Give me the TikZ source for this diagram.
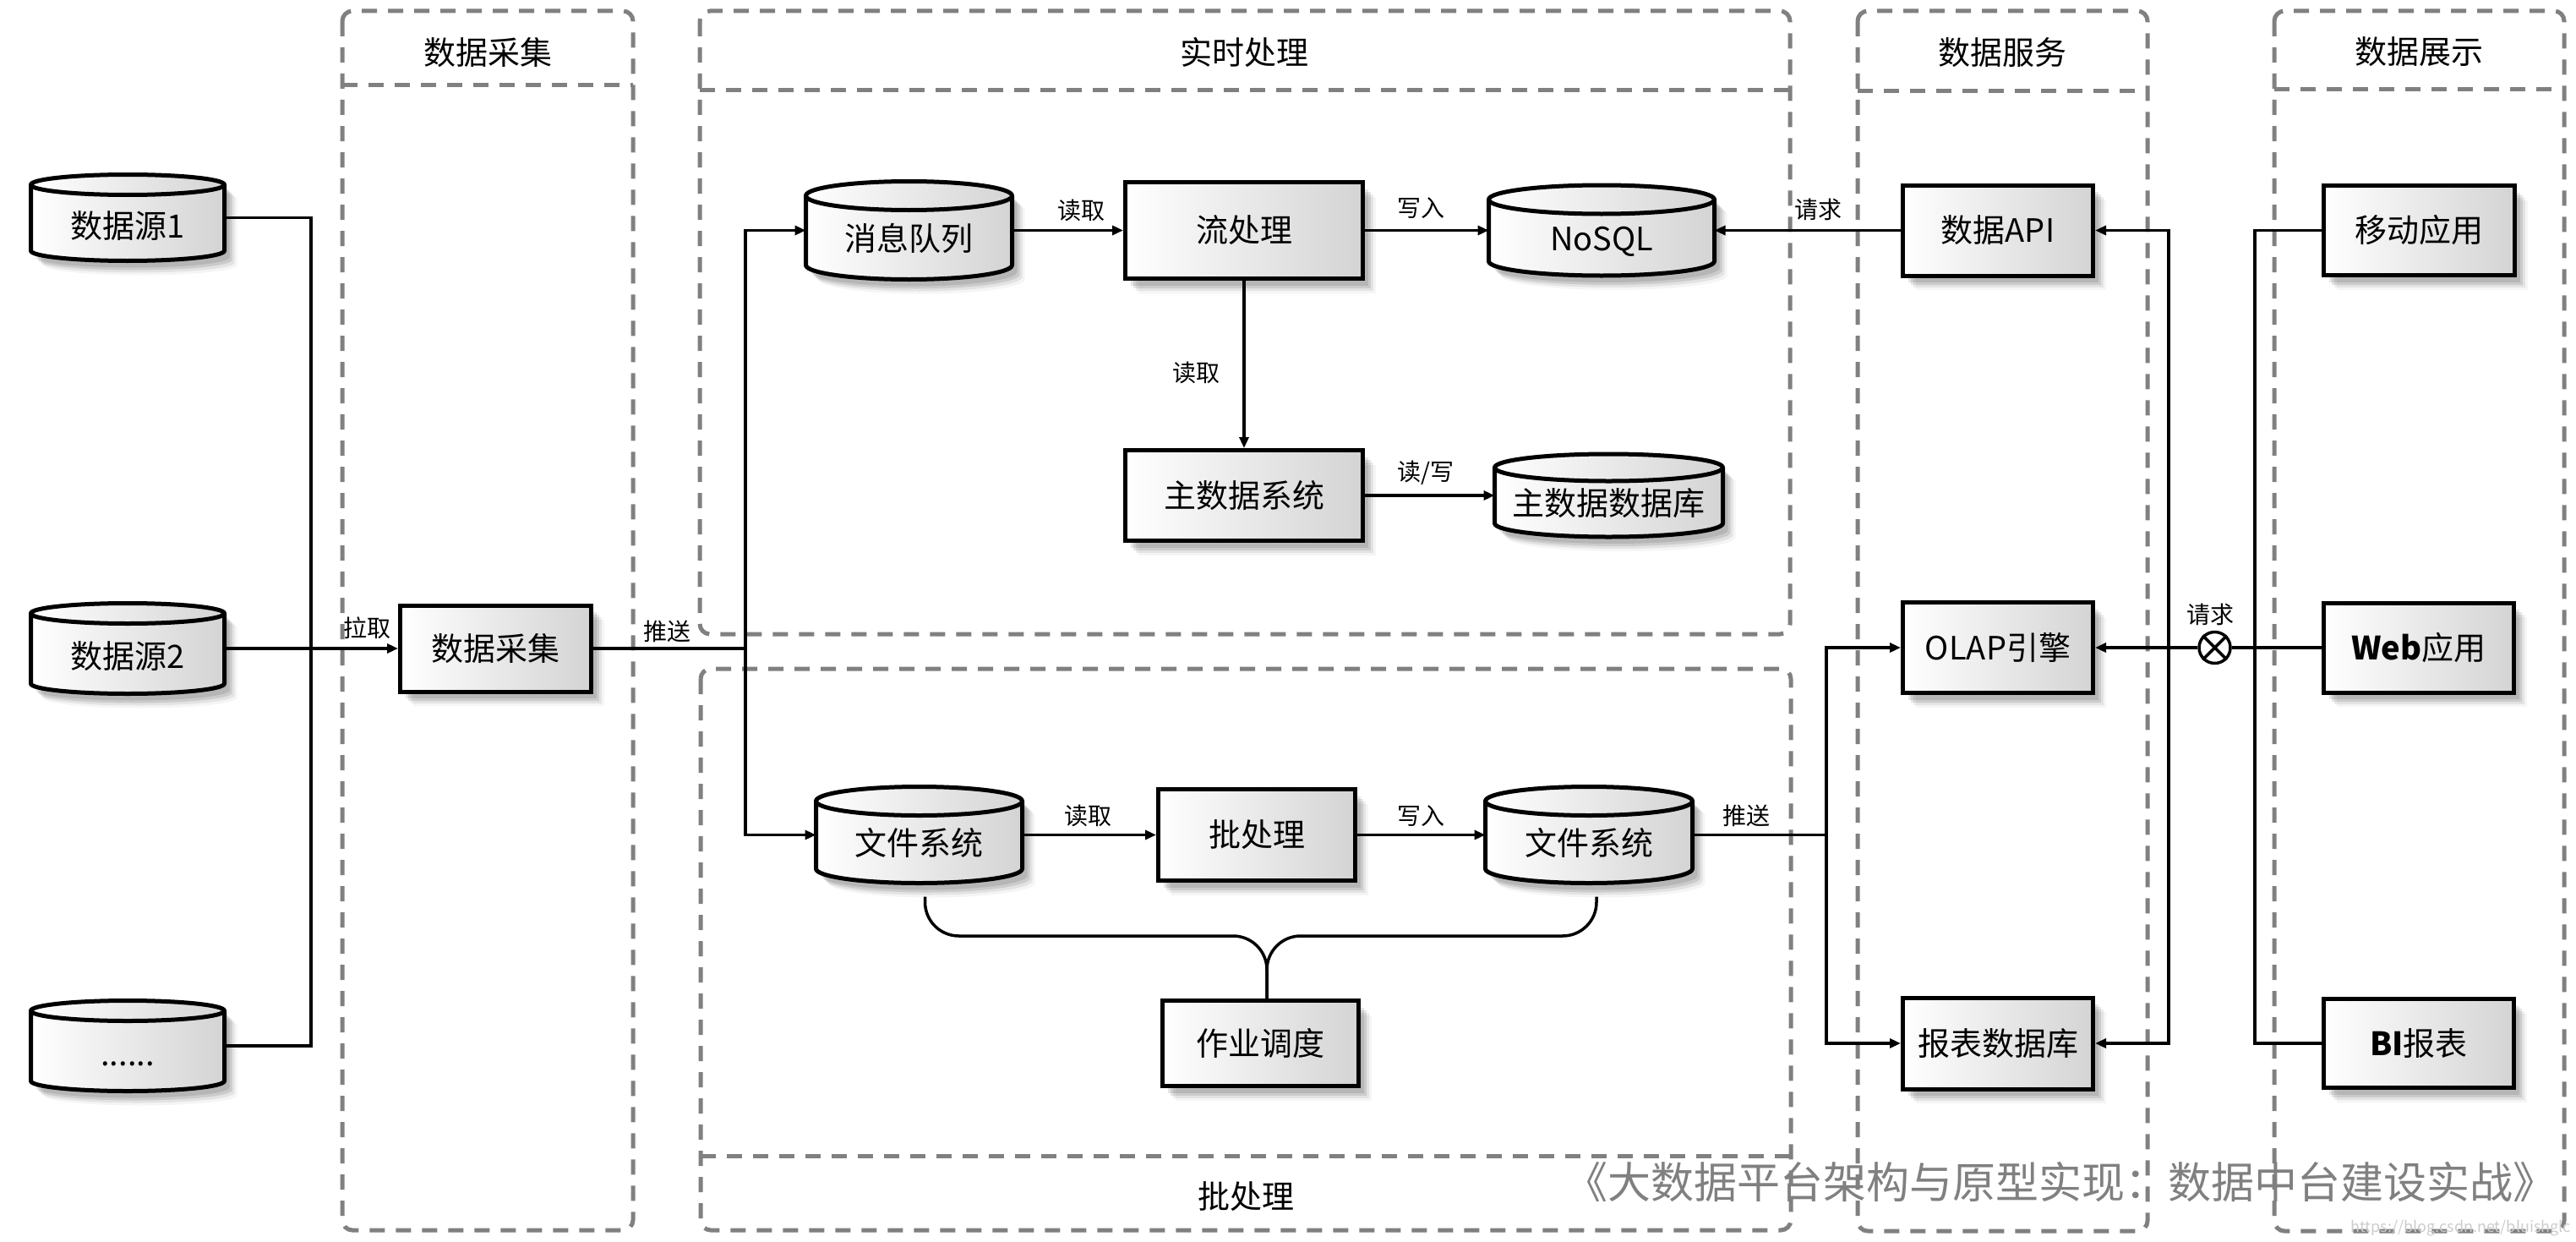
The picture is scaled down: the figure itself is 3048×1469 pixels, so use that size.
\documentclass[tikz,border=0pt]{standalone}
\usepackage{fontspec}
\setmainfont{Noto Sans CJK SC}
\usetikzlibrary{arrows.meta,shadows,calc}
\pgfdeclarelayer{frames}
\pgfdeclarelayer{shapes}
\pgfsetlayers{frames,shapes,main}

\tikzset{
  frame/.style={draw=black!50, line width=5pt, dash pattern=on 18pt off 13pt, rounded corners=12pt},
  sepline/.style={draw=black!50, line width=5pt, dash pattern=on 18pt off 13pt},
  hdr/.style={font=\fontsize{38pt}{44pt}\selectfont, inner sep=0pt},
  shd/.style={
    drop shadow={shadow xshift=15pt,shadow yshift=-17pt,fill=black,opacity=.04},
    drop shadow={shadow xshift=12pt,shadow yshift=-14pt,fill=black,opacity=.07},
    drop shadow={shadow xshift=9pt,shadow yshift=-11pt,fill=black,opacity=.10},
    drop shadow={shadow xshift=6pt,shadow yshift=-8pt,fill=black,opacity=.10}},
  box/.style={draw, line width=5pt, left color=white, right color=black!17, inner sep=0pt,
    font=\fontsize{38pt}{44pt}\selectfont, shd},
  cylnode/.style={inner sep=0pt, outer sep=0pt, font=\fontsize{38pt}{44pt}\selectfont,
    text height=50pt, text depth=3pt},
  conn/.style={line width=3.5pt},
  arr/.style={conn, -{Triangle[length=13pt,width=11pt]}},
  lbl/.style={font=\fontsize{28pt}{32pt}\selectfont, inner sep=0pt},
}

% cylinder outline drawn behind its node text
\newcommand\cyl[2]{%
  \begin{pgfonlayer}{shapes}
    \foreach \sdx/\sdy/\sop in {15pt/-17pt/.04, 12pt/-14pt/.07, 9pt/-11pt/.10, 6pt/-8pt/.10}{%
      \fill[black, opacity=\sop] let \p1=(#1.north west), \p2=(#1.south east), \n1={(\x2-\x1)/2} in
        (\x1+\sdx,\y1-#2+\sdy) -- (\x1+\sdx,\y2+#2+\sdy)
        arc[start angle=180,end angle=360,x radius=\n1,y radius=#2]
        -- (\x2+\sdx,\y1-#2+\sdy)
        arc[start angle=0,end angle=180,x radius=\n1,y radius=#2] -- cycle;
    }
    \path[left color=white, right color=black!17] let \p1=(#1.north west), \p2=(#1.south east), \n1={(\x2-\x1)/2} in
      (\x1,\y1-#2) -- (\x1,\y2+#2)
      arc[start angle=180,end angle=360,x radius=\n1,y radius=#2]
      -- (\x2,\y1-#2)
      arc[start angle=0,end angle=180,x radius=\n1,y radius=#2] -- cycle;
    \draw[line width=5pt, line join=round] let \p1=(#1.north west), \p2=(#1.south east), \n1={(\x2-\x1)/2} in
      (\x1,\y1-#2) -- (\x1,\y2+#2)
      arc[start angle=180,end angle=360,x radius=\n1,y radius=#2]
      -- (\x2,\y1-#2)
      arc[start angle=0,end angle=180,x radius=\n1,y radius=#2] -- cycle
      (\x1,\y1-#2) arc[start angle=180,end angle=360,x radius=\n1,y radius=#2];
  \end{pgfonlayer}}

\begin{document}
\begin{tikzpicture}[x=1pt,y=-1pt]
\useasboundingbox (0,0) rectangle (3048,1469);

\begin{pgfonlayer}{frames}
  \fill[white] (0,0) rectangle (3048,1469);
  \draw[frame] (405,13) rectangle (749,1455);
  \draw[sepline] (405,101) -- (749,101);
  \draw[frame] (828,13) rectangle (2118,750);
  \draw[sepline] (828,107) -- (2118,107);
  \draw[frame] (829,791) rectangle (2119,1455);
  \draw[sepline] (829,1367) -- (2119,1367);
  \draw[frame] (2198,13) rectangle (2541,1456);
  \draw[sepline] (2198,108) -- (2541,108);
  \draw[frame] (2691,13) rectangle (3034,1456);
  \draw[sepline] (2691,106) -- (3034,106);
\end{pgfonlayer}

% headers
\node[hdr] (h1) at (577,62) {数据采集};
\node[hdr] (h2) at (1472,62) {实时处理};
\node[hdr] (h3) at (2369,62) {数据服务};
\node[hdr] (h4) at (2862,61) {数据展示};
\node[hdr] (h5) at (1474,1415) {批处理};

% cylinders
\node[cylnode, minimum width=229pt, minimum height=102pt] (ds1) at (151,257.5) {数据源1};
\node[cylnode, minimum width=229pt, minimum height=107pt] (ds2) at (151,767) {数据源2};
\node[cylnode, minimum width=229pt, minimum height=107pt] (dsn) at (151,1237) {......};
\node[cylnode, minimum width=244pt, minimum height=116pt] (mq) at (1075.5,272.5) {消息队列};
\node[cylnode, minimum width=267pt, minimum height=107pt] (nosql) at (1895,272.5) {NoSQL};
\node[cylnode, minimum width=270pt, minimum height=98pt] (mdb) at (1903.5,586) {主数据数据库};
\node[cylnode, minimum width=244pt, minimum height=114pt] (fs1) at (1087.5,987.5) {文件系统};
\node[cylnode, minimum width=245pt, minimum height=114pt] (fs2) at (1880,987.5) {文件系统};
\cyl{ds1}{12pt}
\cyl{ds2}{12pt}
\cyl{dsn}{12pt}
\cyl{mq}{17pt}
\cyl{nosql}{17pt}
\cyl{mdb}{16pt}
\cyl{fs1}{17pt}
\cyl{fs2}{17pt}

% boxes
\node[box, minimum width=226pt, minimum height=102pt] (collect) at (586.5,767) {数据采集};
\node[box, minimum width=281pt, minimum height=114pt] (stream) at (1472,272.5) {流处理};
\node[box, minimum width=281pt, minimum height=107pt] (master) at (1472,586) {主数据系统};
\node[box, minimum width=233pt, minimum height=108pt] (batch) at (1487,987.5) {批处理};
\node[box, minimum width=232pt, minimum height=101pt] (sched) at (1491.5,1234) {作业调度};
\node[box, minimum width=225pt, minimum height=107pt] (api) at (2364,272.5) {数据API};
\node[box, minimum width=225pt, minimum height=107pt] (olap) at (2364,766) {OLAP引擎};
\node[box, minimum width=225pt, minimum height=108pt] (report) at (2364,1234) {报表数据库};
\node[box, minimum width=226pt, minimum height=106pt] (mobile) at (2862.5,272.5) {移动应用};
\node[box, minimum width=225pt, minimum height=106pt] (web) at (2862,766) {\textbf{Web}应用};
\node[box, minimum width=225pt, minimum height=105pt] (bi) at (2862,1234) {\textbf{BI}报表};

% junctions
\coordinate (b1) at (368,767);
\coordinate (b2) at (882,767);
\coordinate (b3) at (2161,987.5);
\coordinate (xl) at (2566,766);
\coordinate (xr) at (2668,766);
\coordinate (bm) at (1499,1107);

% sources -> collection
\draw[conn] (ds1.east) -| (b1);
\draw[conn] (dsn.east) -| (b1);
\draw[arr] (ds2.east) -- (collect.west);
\node[lbl] (l1) at (434,743) {拉取};

% collection -> processing
\draw[conn] (collect.east) -- (b2);
\node[lbl] (l2) at (789,747) {推送};
\draw[arr] (b2) |- (mq.west);
\draw[arr] (b2) |- (fs1.west);

% real time
\draw[arr] (mq.east) -- (stream.west);
\node[lbl] (l3) at (1279,249) {读取};
\draw[arr] (stream.east) -- (nosql.west);
\node[lbl] (l4) at (1681,246) {写入};
\draw[arr] (stream.south) -- (master.north);
\node[lbl] (l5) at (1415,441) {读取};
\draw[arr] (master.east) -- (mdb.west);
\node[lbl] (l6) at (1687,559) {读/写};
\draw[arr] (api.west) -- (nosql.east);
\node[lbl] (l7) at (2151,248) {请求};

% batch
\draw[arr] (fs1.east) -- (batch.west);
\node[lbl] (l8) at (1287,965) {读取};
\draw[arr] (batch.east) -- (fs2.west);
\node[lbl] (l9) at (1681,965) {写入};
\draw[conn] (fs2.east) -- (b3);
\node[lbl] (l10) at (2066,965) {推送};
\draw[arr] (b3) |- (olap.west);
\draw[arr] (b3) |- (report.west);

% scheduling brace
\draw[conn, rounded corners=40pt] ([xshift=7pt,yshift=-16pt]fs1.south) |- (bm) -- (bm |- sched.north);
\draw[conn, rounded corners=40pt] ([xshift=9pt,yshift=-16pt]fs2.south) |- (bm) -- (bm |- sched.north);

% presentation side
\node[circle, draw, line width=3.5pt, minimum size=37pt, inner sep=0pt, fill=white] (req) at (2620.5,766) {};
\draw[line width=3.5pt] (req.45) -- (req.225) (req.135) -- (req.315);
\node[lbl] (l11) at (2615,727) {请求};
\draw[conn] (mobile.west) -| (xr) |- (bi.west);
\draw[conn] (web.west) -- (req.east);
\draw[arr] (req.west) -- (olap.east);
\draw[arr] (xl) |- (api.east);
\draw[arr] (xl) |- (report.east);

% watermark
\node[anchor=east, text=black!50, font=\fontsize{51pt}{57pt}\selectfont, inner sep=0pt] (wm) at (3025,1398) {《大数据平台架构与原型实现：数据中台建设实战》};
\node[anchor=south east, text=black!20, font=\fontsize{18pt}{21pt}\selectfont, inner sep=0pt] (url) at (3042,1462) {https://blog.csdn.net/bluishglc};
\end{tikzpicture}
\end{document}
